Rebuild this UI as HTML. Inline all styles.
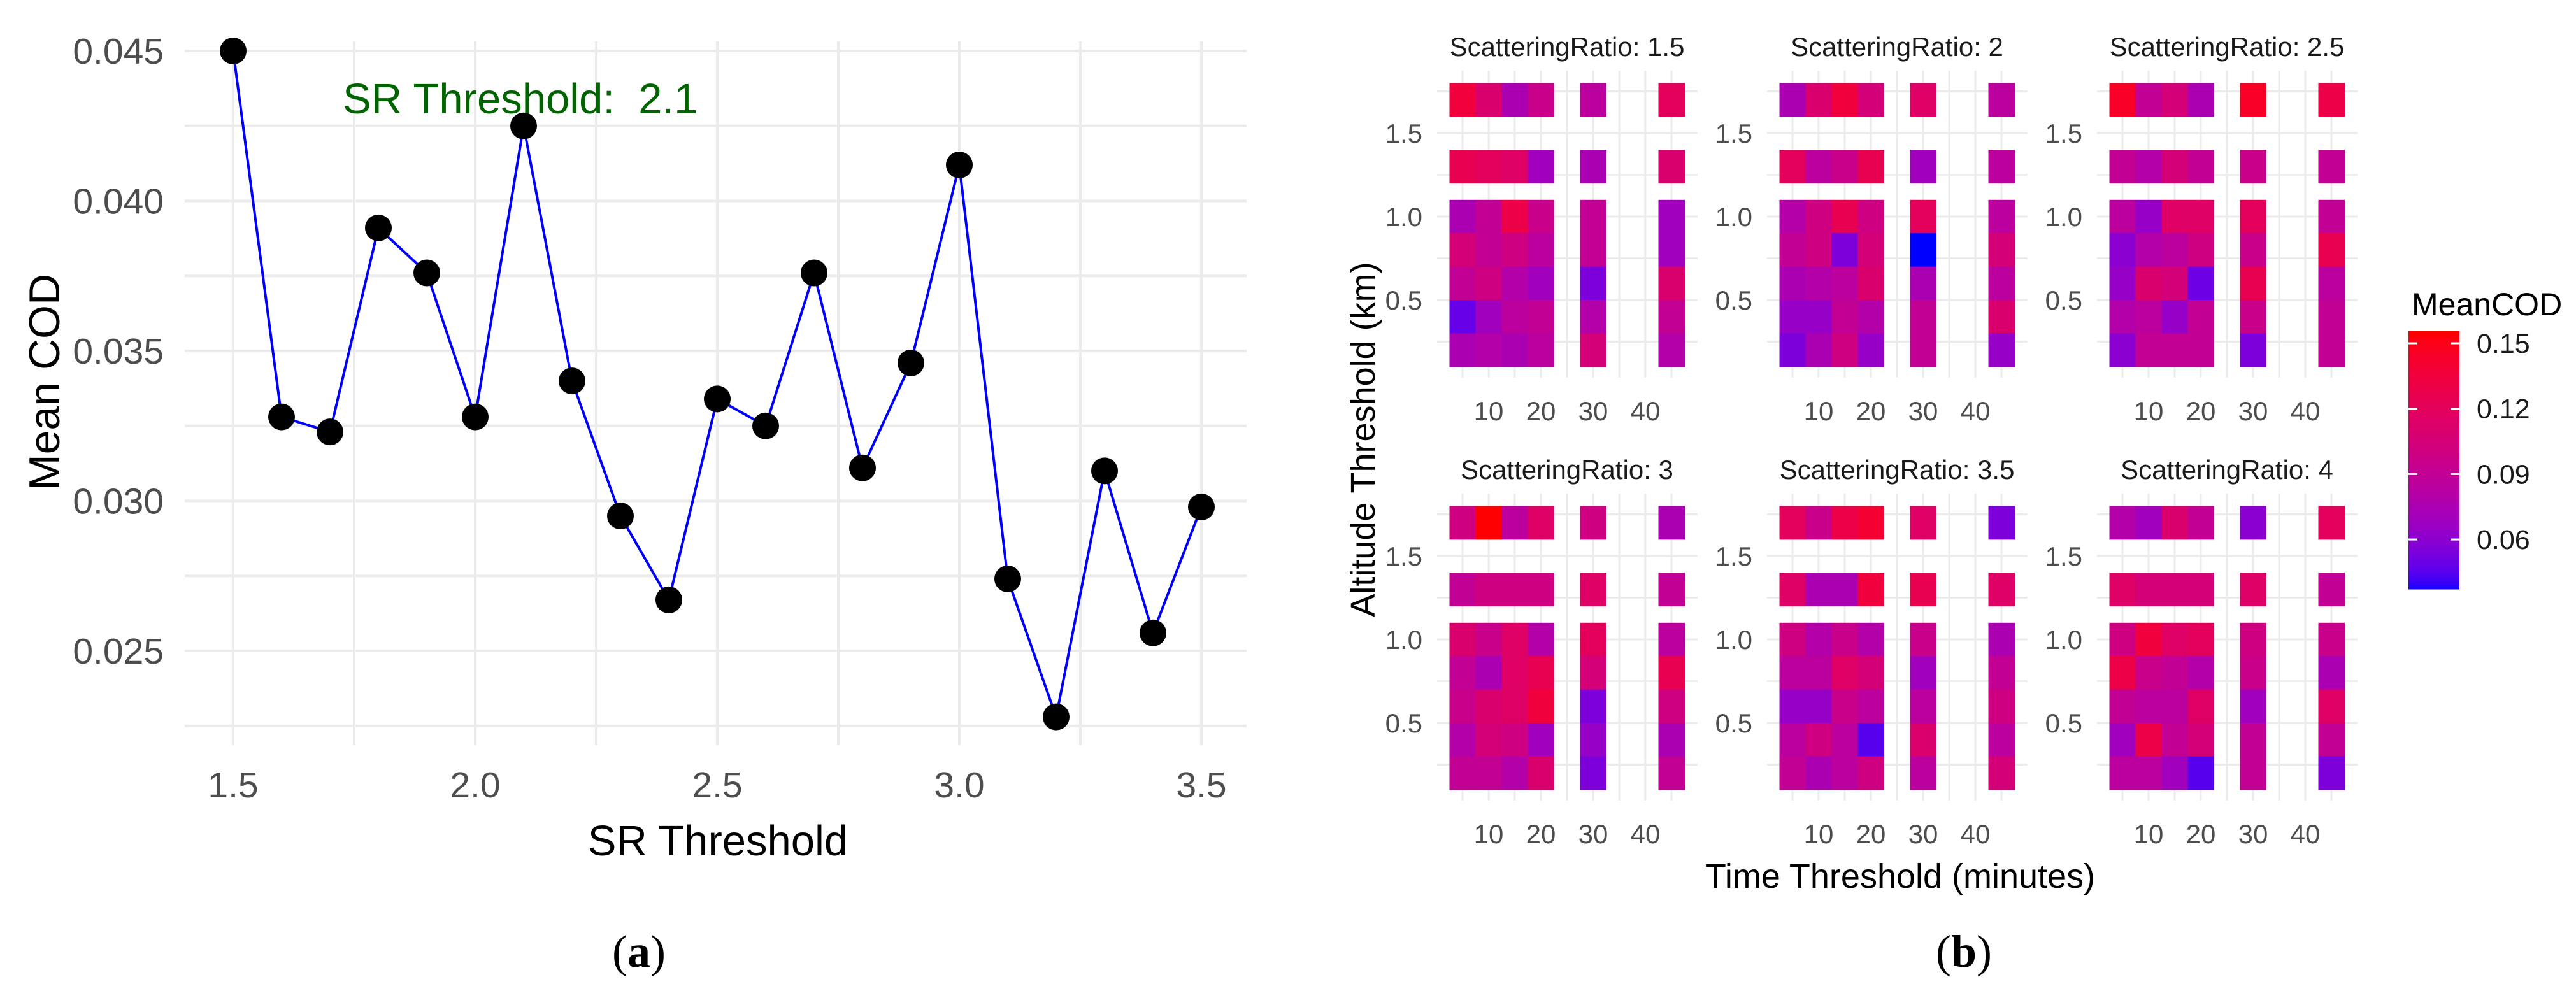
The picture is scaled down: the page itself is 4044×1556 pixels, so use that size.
<!DOCTYPE html>
<html><head><meta charset="utf-8">
<style>
html,body{margin:0;padding:0;background:#fff;}
svg{display:block;font-family:"Liberation Sans",sans-serif;}
</style></head>
<body>
<svg id="fig" width="4044" height="1556" viewBox="0 0 4044 1556" xmlns="http://www.w3.org/2000/svg">
<rect x="0" y="0" width="4044" height="1556" fill="#fff"/>
<g id="left"></g>
<g id="right"></g>
<text x="1003" y="1518" font-family="Liberation Serif,serif" font-size="72" text-anchor="middle">(<tspan font-weight="bold">a</tspan>)</text>
<text x="3083" y="1518" font-family="Liberation Serif,serif" font-size="72" text-anchor="middle">(<tspan font-weight="bold">b</tspan>)</text>
</svg>
<script>
// ---- Panel (a) data ----
const srThresholds = [1.5,1.6,1.7,1.8,1.9,2.0,2.1,2.2,2.3,2.4,2.5,2.6,2.7,2.8,2.9,3.0,3.1,3.2,3.3,3.4,3.5];
const meanCod = [0.0450,0.0328,0.0323,0.0391,0.0376,0.0328,0.0425,0.0340,0.0295,0.0267,0.0334,0.0325,0.0376,0.0311,0.0346,0.0412,0.0274,0.0228,0.0310,0.0256,0.0298];
const yTicksA = [0.025,0.030,0.035,0.040,0.045];
const yTickLabelsA = ["0.025","0.030","0.035","0.040","0.045"];
const xTicksA = [1.5,2.0,2.5,3.0,3.5];
const xTickLabelsA = ["1.5","2.0","2.5","3.0","3.5"];

// ---- Panel (b) data ----
const facetLabels = ["ScatteringRatio: 1.5","ScatteringRatio: 2","ScatteringRatio: 2.5","ScatteringRatio: 3","ScatteringRatio: 3.5","ScatteringRatio: 4"];
const timeThresholds = [5,10,15,20,30,45];
const altThresholds = [1.7,1.3,1.0,0.8,0.6,0.4,0.2];
const timeTicks = [10,20,30,40];
const altTicks = [0.5,1.0,1.5];
const altTickLabels = ["0.5","1.0","1.5"];
const legendTicks = [0.06,0.09,0.12,0.15];
const legendTickLabels = ["0.06","0.09","0.12","0.15"];
const fillMin = 0.037, fillMax = 0.155;
// rows follow altThresholds order, columns follow timeThresholds
const cod15 = [[0.135,0.11,0.075,0.095,0.085,0.12],[0.125,0.12,0.115,0.07,0.075,0.11],[0.075,0.09,0.13,0.095,0.09,0.07],[0.105,0.09,0.1,0.085,0.09,0.07],[0.09,0.1,0.08,0.07,0.055,0.11],[0.048,0.07,0.085,0.09,0.08,0.09],[0.075,0.08,0.075,0.085,0.105,0.08]];
const cod20 = [[0.075,0.11,0.135,0.105,0.115,0.085],[0.12,0.085,0.095,0.125,0.07,0.085],[0.08,0.1,0.125,0.1,0.12,0.085],[0.09,0.1,0.055,0.105,0.037,0.105],[0.075,0.08,0.085,0.11,0.075,0.085],[0.065,0.065,0.09,0.08,0.09,0.11],[0.055,0.075,0.1,0.065,0.09,0.065]];
const cod25 = [[0.145,0.09,0.105,0.075,0.145,0.13],[0.09,0.08,0.105,0.09,0.095,0.09],[0.085,0.065,0.115,0.115,0.12,0.09],[0.06,0.08,0.085,0.1,0.095,0.125],[0.065,0.11,0.105,0.05,0.125,0.085],[0.08,0.085,0.065,0.09,0.095,0.09],[0.06,0.09,0.09,0.09,0.055,0.09]];
const cod30 = [[0.1,0.155,0.085,0.115,0.1,0.075],[0.09,0.1,0.1,0.1,0.115,0.09],[0.11,0.095,0.115,0.08,0.12,0.085],[0.09,0.075,0.115,0.125,0.105,0.125],[0.095,0.11,0.115,0.135,0.055,0.1],[0.08,0.105,0.1,0.07,0.065,0.075],[0.09,0.09,0.08,0.11,0.055,0.09]];
const cod35 = [[0.12,0.095,0.13,0.14,0.115,0.055],[0.115,0.075,0.075,0.135,0.125,0.115],[0.1,0.08,0.095,0.08,0.095,0.075],[0.085,0.085,0.115,0.105,0.07,0.09],[0.065,0.065,0.095,0.085,0.085,0.1],[0.085,0.1,0.085,0.045,0.11,0.085],[0.09,0.075,0.085,0.1,0.085,0.105]];
const cod40 = [[0.08,0.07,0.11,0.09,0.06,0.12],[0.115,0.105,0.105,0.105,0.115,0.09],[0.1,0.135,0.115,0.12,0.1,0.095],[0.13,0.095,0.09,0.08,0.095,0.075],[0.09,0.085,0.085,0.115,0.07,0.115],[0.07,0.13,0.09,0.105,0.09,0.09],[0.085,0.085,0.07,0.045,0.09,0.055]];
const facetData = [cod15,cod20,cod25,cod30,cod35,cod40];

const NS = "http://www.w3.org/2000/svg";
function mk(parent, tag, attrs, text){
  const e = document.createElementNS(NS, tag);
  for (const k in attrs) e.setAttribute(k, attrs[k]);
  if (text !== undefined) e.textContent = text;
  parent.appendChild(e);
  return e;
}
const GRID = "#ebebeb";

// ===== Panel (a) =====
const L = document.getElementById('left');
const xA = v => 366 + (v - 1.5) * 760;
const yA = v => 80 + (0.045 - v) * 47100;
for (let v = 0.0225; v <= 0.0451; v += 0.0025) {
  const ln = mk(L, 'line', {x1:290, x2:1957, y1:yA(v), y2:yA(v), stroke:GRID, 'stroke-width':4});
  
  
}
for (let v = 1.5; v <= 3.51; v += 0.25) {
  const ln = mk(L, 'line', {x1:xA(v), x2:xA(v), y1:65, y2:1170, stroke:GRID, 'stroke-width':4});
  
  
}
yTicksA.forEach((v, i) => {
  const t = mk(L, 'text', {x:257, y:yA(v)+20, 'font-size':57, fill:'#4d4d4d', 'text-anchor':'end'}, yTickLabelsA[i]);
  
  
});
xTicksA.forEach((v, i) => {
  const t = mk(L, 'text', {x:xA(v), y:1252, 'font-size':57, fill:'#4d4d4d', 'text-anchor':'middle'}, xTickLabelsA[i]);
  
  
});
const pts = srThresholds.map((s, i) => xA(s) + ',' + yA(meanCod[i])).join(' ');
const pl = mk(L, 'polyline', {points:pts, fill:'none', stroke:'#0000ff', 'stroke-width':4});


srThresholds.forEach((s, i) => {
  const c = mk(L, 'circle', {cx:xA(s), cy:yA(meanCod[i]), r:21, fill:'#000'});
  
  
});
const ann = mk(L, 'text', {x:538, y:178, 'font-size':67, fill:'#006400'}, 'SR Threshold:\u00a0\u00a02.1');


const xt = mk(L, 'text', {x:1127, y:1343, 'font-size':67, fill:'#000', 'text-anchor':'middle'}, 'SR Threshold');


const yt = mk(L, 'text', {x:0, y:0, 'font-size':68, fill:'#000', 'text-anchor':'middle', transform:'translate(93,600) rotate(-90)'}, 'Mean COD');



// ===== Panel (b) =====
function lab2rgb(Lv, a, b){
  let fy = (Lv + 16) / 116, fx = fy + a / 500, fz = fy - b / 200;
  const f = t => t*t*t > 0.008856 ? t*t*t : (t - 16/116) / 7.787;
  let X = 0.95047 * f(fx), Y = 1.0 * f(fy), Z = 1.08883 * f(fz);
  let r = X*3.2406 + Y*-1.5372 + Z*-0.4986;
  let g = X*-0.9689 + Y*1.8758 + Z*0.0415;
  let bb = X*0.0557 + Y*-0.2040 + Z*1.0570;
  const gm = c => { c = c > 0.0031308 ? 1.055*Math.pow(c, 1/2.4) - 0.055 : 12.92*c; return Math.round(Math.max(0, Math.min(1, c))*255); };
  return 'rgb(' + gm(r) + ',' + gm(g) + ',' + gm(bb) + ')';
}
const BLUE = [32.30, 79.19, -107.86], RED = [53.24, 80.09, 67.20];
function fillColor(v){
  let t = (v - fillMin) / (fillMax - fillMin);
  t = Math.max(0, Math.min(1, t));
  return lab2rgb(BLUE[0] + (RED[0]-BLUE[0])*t, BLUE[1] + (RED[1]-BLUE[1])*t, BLUE[2] + (RED[2]-BLUE[2])*t);
}
const R = document.getElementById('right');
facetData.forEach((grid, k) => {
  const col = k % 3, row = Math.floor(k / 3);
  const ox = col * 518, oy = row * 664;
  const xB = v => 2255 + ox + v * 8.2;
  const yB = v => 340 + oy - (v - 1) * 262;
  const g = mk(R, 'g', {});
  
  
  for (let v = 0.25; v <= 1.76; v += 0.25) {
    const ln = mk(g, 'line', {x1:2256+ox, x2:2665+ox, y1:yB(v), y2:yB(v), stroke:GRID, 'stroke-width':3});
    
    
  }
  for (let v = 5; v <= 45; v += 5) {
    const ln = mk(g, 'line', {x1:xB(v), x2:xB(v), y1:111+oy, y2:593+oy, stroke:GRID, 'stroke-width':3});
    
    
  }
  grid.forEach((rowVals, ri) => {
    rowVals.forEach((val, ci) => {
      const tx = timeThresholds[ci], al = altThresholds[ri];
      const x0 = xB(tx - 2.5), x1 = xB(tx + 2.5);
      const y0 = yB(al + 0.1), y1 = yB(al - 0.1);
      const c = mk(g, 'rect', {x:x0, y:y0, width:x1-x0+0.6, height:y1-y0+0.6, fill:fillColor(val)});
      
      
    });
  });
  const ft = mk(g, 'text', {x:2460+ox, y:88+oy, 'font-size':42, fill:'#1a1a1a', 'text-anchor':'middle'}, facetLabels[k]);
  
  
  altTicks.forEach((v, i) => {
    const t = mk(g, 'text', {x:2233+ox, y:yB(v)+15, 'font-size':42, fill:'#4d4d4d', 'text-anchor':'end'}, altTickLabels[i]);
    
    
  });
  timeTicks.forEach(v => {
    const t = mk(g, 'text', {x:xB(v), y:660+oy, 'font-size':42, fill:'#4d4d4d', 'text-anchor':'middle'}, String(v));
    
    
  });
});
const bxt = mk(R, 'text', {x:2983, y:1394, 'font-size':54, fill:'#000', 'text-anchor':'middle'}, 'Time Threshold (minutes)');


const byt = mk(R, 'text', {x:0, y:0, 'font-size':54, fill:'#000', 'text-anchor':'middle', transform:'translate(2158,690) rotate(-90)'}, 'Altitude Threshold (km)');



// legend
const lg = mk(R, 'g', {});


const yL = v => 539 + (0.15 - v) * 3423;
const lt = mk(lg, 'text', {x:3786, y:495, 'font-size':50, fill:'#000'}, 'MeanCOD');


for (let py = 520; py < 925; py += 3) {
  const v = 0.15 - (py + 1.5 - 539) / 3423;
  const s = mk(lg, 'rect', {x:3781, y:py, width:80, height:3.5, fill:fillColor(v)});
  
  
}
legendTicks.forEach((v, i) => {
  const a = mk(lg, 'line', {x1:3781, x2:3795, y1:yL(v), y2:yL(v), stroke:'#fff', 'stroke-width':3});
  
  
  const b = mk(lg, 'line', {x1:3847, x2:3861, y1:yL(v), y2:yL(v), stroke:'#fff', 'stroke-width':3});
  
  
  const t = mk(lg, 'text', {x:3888, y:yL(v)+15, 'font-size':43, fill:'#1a1a1a'}, legendTickLabels[i]);
  
  
});
</script>
</body></html>
